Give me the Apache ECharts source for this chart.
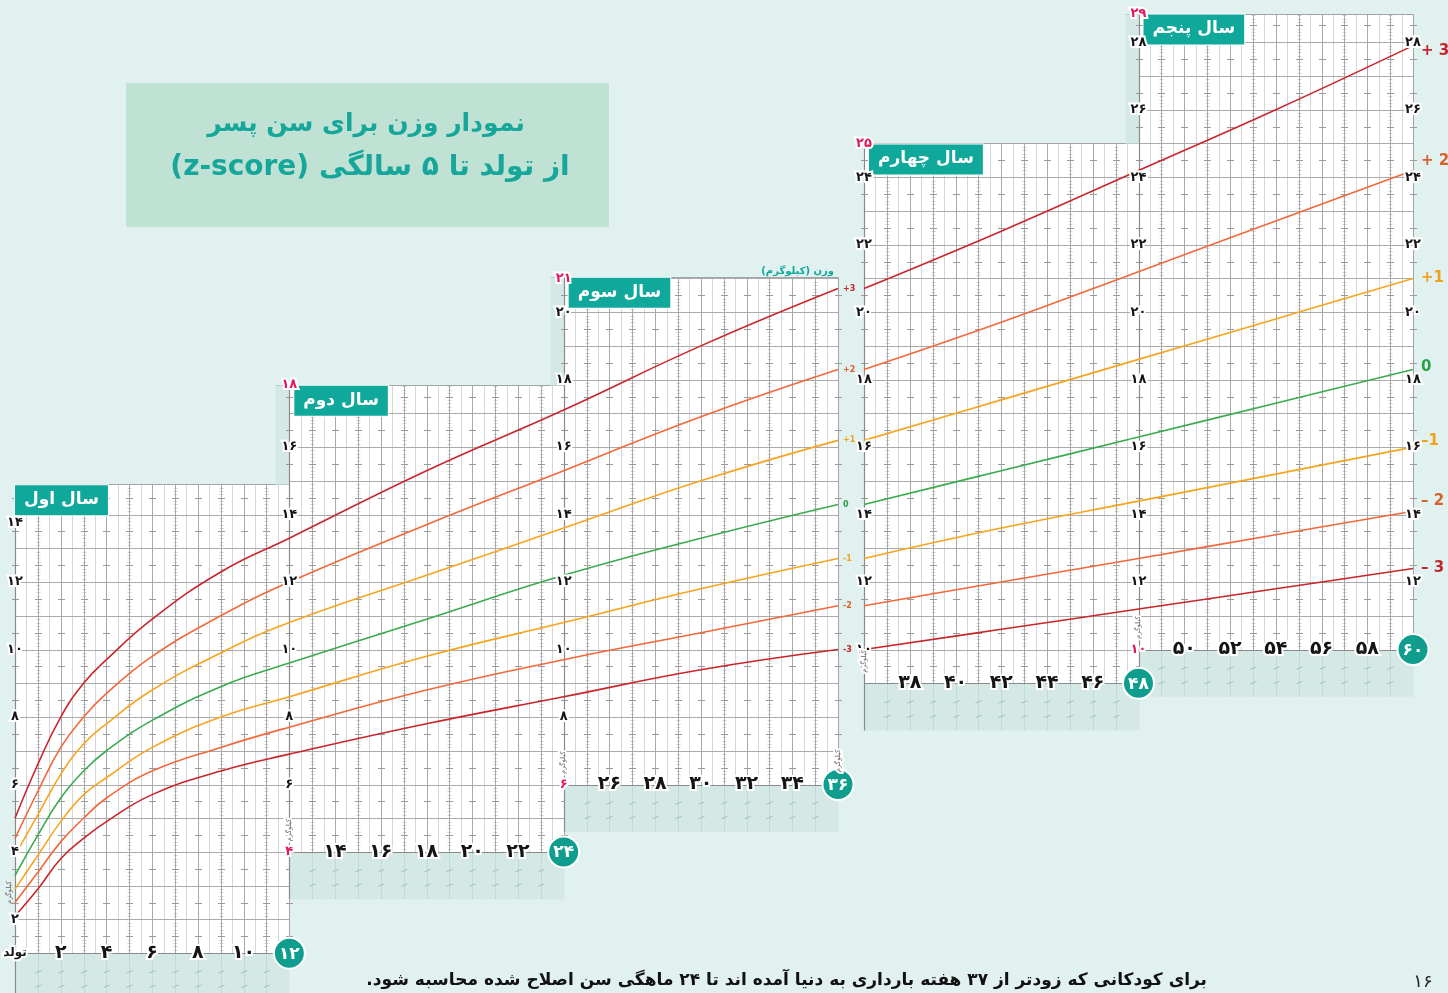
<!DOCTYPE html>
<html><head><meta charset="utf-8">
<script src="https://cdn.jsdelivr.net/npm/echarts@6/dist/echarts.min.js"></script>
<style>html,body{margin:0;padding:0;background:#e1f1ef;overflow:hidden}#chart{width:1448px;height:993px}</style>
</head><body><div id="chart"></div>
<script>
// ---------- DATA ----------
const ageMonths = Array.from({length: 61}, (_, i) => i);
const wSDneg3 = [2.1,2.9,3.8,4.4,4.9,5.3,5.7,5.9,6.2,6.4, 6.6,6.8,6.9,7.1,7.2,7.4,7.5,7.7,7.8,8.0, 8.1,8.2,8.4,8.5,8.6,8.8,8.9,9.0,9.1,9.2, 9.4,9.5,9.6,9.7,9.8,9.9,10.0,10.1,10.2,10.3, 10.4,10.5,10.6,10.7,10.8,10.9,11.0,11.1,11.2,11.3, 11.4,11.5,11.6,11.7,11.8,11.9,12.0,12.1,12.2,12.3,12.4];
const wSDneg2 = [2.5,3.4,4.3,5.0,5.6,6.0,6.4,6.7,6.9,7.1, 7.4,7.6,7.7,7.9,8.1,8.3,8.4,8.6,8.8,8.9, 9.1,9.2,9.4,9.5,9.7,9.8,10.0,10.1,10.2,10.4, 10.5,10.7,10.8,10.9,11.0,11.2,11.3,11.4,11.5,11.6, 11.8,11.9,12.0,12.1,12.2,12.4,12.5,12.6,12.7,12.8, 12.9,13.1,13.2,13.3,13.4,13.5,13.6,13.7,13.8,14.0,14.1];
const wSDneg1 = [2.9,3.9,4.9,5.7,6.2,6.7,7.1,7.4,7.7,8.0, 8.2,8.4,8.6,8.8,9.0,9.2,9.4,9.6,9.8,10.0, 10.1,10.3,10.5,10.7,10.8,11.0,11.2,11.3,11.5,11.7, 11.8,12.0,12.1,12.3,12.4,12.6,12.7,12.9,13.0,13.1, 13.3,13.4,13.6,13.7,13.8,14.0,14.1,14.3,14.4,14.5, 14.7,14.8,15.0,15.1,15.2,15.4,15.5,15.6,15.8,15.9,16.0];
const wSD0    = [3.3,4.5,5.6,6.4,7.0,7.5,7.9,8.3,8.6,8.9, 9.2,9.4,9.6,9.9,10.1,10.3,10.5,10.7,10.9,11.1, 11.3,11.5,11.8,12.0,12.2,12.4,12.5,12.7,12.9,13.1, 13.3,13.5,13.7,13.8,14.0,14.2,14.3,14.5,14.7,14.8, 15.0,15.2,15.3,15.5,15.7,15.8,16.0,16.2,16.3,16.5, 16.7,16.8,17.0,17.2,17.3,17.5,17.7,17.8,18.0,18.2,18.3];
const wSD1    = [3.9,5.1,6.3,7.2,7.8,8.4,8.8,9.2,9.6,9.9, 10.2,10.5,10.8,11.0,11.3,11.5,11.7,12.0,12.2,12.5, 12.7,12.9,13.2,13.4,13.6,13.9,14.1,14.3,14.5,14.8, 15.0,15.2,15.4,15.6,15.8,16.0,16.2,16.4,16.6,16.8, 17.0,17.2,17.4,17.6,17.8,18.0,18.2,18.4,18.6,18.8, 19.0,19.2,19.4,19.6,19.8,20.0,20.2,20.4,20.6,20.8,21.0];
const wSD2    = [4.4,5.8,7.1,8.0,8.7,9.3,9.8,10.3,10.7,11.0, 11.4,11.7,12.0,12.3,12.6,12.8,13.1,13.4,13.7,13.9, 14.2,14.5,14.7,15.0,15.3,15.5,15.8,16.1,16.3,16.6, 16.9,17.1,17.4,17.6,17.8,18.1,18.3,18.6,18.8,19.0, 19.3,19.5,19.7,20.0,20.2,20.5,20.7,20.9,21.2,21.4, 21.7,21.9,22.2,22.4,22.7,22.9,23.2,23.4,23.7,23.9,24.2];
const wSD3    = [5.0,6.6,8.0,9.0,9.7,10.4,10.9,11.4,11.9,12.3, 12.7,13.0,13.3,13.7,14.0,14.3,14.6,14.9,15.3,15.6, 15.9,16.2,16.5,16.8,17.1,17.5,17.8,18.1,18.4,18.7, 19.0,19.3,19.6,19.9,20.2,20.4,20.7,21.0,21.3,21.6, 21.9,22.1,22.4,22.7,23.0,23.3,23.6,23.9,24.2,24.5, 24.8,25.1,25.4,25.7,26.0,26.3,26.6,26.9,27.2,27.6,27.9];
// months whose values are used as curve knots (values rounded to 0.1 kg, so sparse knots avoid rounding kinks)
const curveMonths = [0,1,2,3,4,6,9,12,18,24,30,36,42,48,54,60];

const zSmallLabels = ['+3','+2','+1','0','-1','-2','-3'];
const zLargeLabels = ['+ 3','+ 2','+1','0','–1','– 2','– 3'];

const panelStartMonth = [0, 12, 24, 36, 48];
const panelEndMonth   = [12, 24, 36, 48, 60];
const panelMinKg      = [1, 4, 6, 9, 10];
const panelMaxKg      = [14.9, 17.85, 21.05, 25, 28.85];
const panelTitles     = ['سال اول', 'سال دوم', 'سال سوم', 'سال چهارم', 'سال پنجم'];
const badgeMonths     = [12, 24, 36, 48, 60];
const axisTickKg = [[2,4,6,8,10,12,14],[6,8,10,12,14,16],[8,10,12,14,16,18,20],[10,12,14,16,18,20,22,24],[12,14,16,18,20,22,24,26,28]];
const axisEndKg  = [[],[4,18],[6,21],[25],[10,29]];
const rightTickKg = [12,14,16,18,20,22,24,26,28];
const monthTicks = [[2,4,6,8,10],[14,16,18,20,22],[26,28,30,32,34],[38,40,42,44,46],[50,52,54,56,58]];

const titleLine1 = 'نمودار وزن برای سن پسر';
const titleLine2 = 'از تولد تا ۵ سالگی (z-score)';
const footnote = 'برای کودکانی که زودتر از ۳۷ هفته بارداری به دنیا آمده اند تا ۲۴ ماهگی سن اصلاح شده محاسبه شود.';
const pageNo = '۱۶';
const birthLabel = 'تولد';
const kgWord = 'کیلوگرم';
const weightAxisName = 'وزن (کیلوگرم)';

// ---------- STYLE ----------
const FONT = '"DejaVu Sans", sans-serif';
const GHOST = '#d4e9e6', TEAL = '#10a89b', BADGE = '#0f9e8e', INK = '#151515', RED = '#e3185c';
const zSeries = [wSD3, wSD2, wSD1, wSD0, wSDneg1, wSDneg2, wSDneg3];
const zLineColor = ['#c8262b', '#f2683b', '#f7a41e', '#3aab4f', '#f7a41e', '#f2683b', '#c8262b'];
const zTextColor = ['#c0272d', '#d7612b', '#f3a11c', '#2c9f4b', '#f3a11c', '#d7612b', '#c0272d'];
const RLE = '\u202B', PDF = '\u202C';
const FA = '۰۱۲۳۴۵۶۷۸۹';
const fa = n => String(n).replace(/\d/g, d => FA[d]);
const panelGrid = [0, 0, 0, 1, 1];

// ---------- PANELS (custom) ----------
function panelRender(params, api) {
  const xs = api.value(0), xe = api.value(1), k0 = api.value(2), k1 = api.value(3), prevTop = api.value(4);
  const P = (m, k) => api.coord([m, k]);
  const r = v => Math.round(v) + 0.5;
  const L = r(P(xs, k0)[0]), R = r(P(xe, k0)[0]);
  const T = r(P(xs, k1)[1]), B = r(P(xs, k0)[1]);
  const G = P(xs, k0 - 1.4)[1];
  const ch = [];
  const path = (d, stroke, w) => ({type: 'path', shape: {pathData: d}, style: {fill: 'none', stroke, lineWidth: w || 1}});
  ch.push({type: 'rect', shape: {x: L, y: B, width: R - L, height: G - B}, style: {fill: GHOST}});
  let gl = '', sl = '';
  for (let m = xs + 1; m < xe; m++) {
    const x = r(P(m, k0)[0]);
    gl += `M${x} ${B}L${x} ${G}`;
    [0.55, 0.98].forEach(d => { const y = P(m, k0 - d)[1]; sl += `M${x - 3} ${y + 1.2}L${x + 3} ${y - 1.2}`; });
  }
  ch.push(path(gl, '#c2dad6'));
  ch.push(path(sl, '#9fbcb8'));
  if (prevTop > 0) {
    const yb = r(P(xs, prevTop)[1]);
    ch.push({type: 'rect', shape: {x: L - 14, y: T, width: 14, height: yb - T}, style: {fill: GHOST}});
    ch.push(path(`M${L - 14} ${yb}L${L} ${yb}M${L - 14} ${T}L${L} ${T}`, '#b9d2ce'));
  }
  ch.push({type: 'rect', shape: {x: L, y: T, width: R - L, height: B - T}, style: {fill: '#ffffff'}});
  let half = '', kg = '', mon = '', dash = '', comb = '';
  for (let m = xs; m < xe; m++) { const x = r(P(m + 0.5, k0)[0]); half += `M${x} ${T}L${x} ${B}`; }
  for (let k = Math.ceil(k0 + 0.01); k < k1; k++) { const y = r(P(xs, k)[1]); kg += `M${L} ${y}L${R} ${y}`; }
  for (let m = xs + 1; m < xe; m++) { const x = r(P(m, k0)[0]); mon += `M${x} ${T}L${x} ${B}`; }
  for (let m = xs; m <= xe; m++) {
    const x = r(P(m, k0)[0]);
    for (let k = Math.floor(k0) + 0.5; k < k1; k++) { if (k <= k0) continue; const y = r(P(m, k)[1]); dash += `M${x - 3.5} ${y}L${x + 3.5} ${y}`; }
    if ((m % 2 === 1) && m > xs && m < xe) {
      for (let j = Math.ceil(k0 * 10); j <= Math.floor(k1 * 10); j++) {
        if (j % 5 === 0) continue;
        const y = r(P(m, j / 10)[1]); comb += `M${x - 2} ${y}L${x + 2} ${y}`;
      }
    }
  }
  ch.push(path(half, '#d6d6d6'));
  ch.push(path(comb, '#d2d2d2'));
  ch.push(path(kg, '#ababab'));
  ch.push(path(mon, '#a9a9a9'));
  ch.push(path(dash, '#9a9a9a'));
  ch.push(path(`M${L} ${T}L${R} ${T}M${R} ${T}L${R} ${B}`, '#a3a3a3'));
  ch.push(path(`M${L} ${B}L${R} ${B}M${L} ${T}L${L} ${G}`, '#8a8a8a', 1.2));
  return {type: 'group', children: ch};
}

function decorRender(params, api) {
  const i = api.value(4);
  const tl = api.coord([api.value(0), api.value(1)]);
  const br = api.coord([api.value(2), api.value(3)]);
  const dx = i === 0 ? 0 : 5;
  return {type: 'group', children: [
    {type: 'text', x: tl[0] + dx, y: tl[1] + 1, style: {text: panelTitles[i], fill: '#ffffff', font: `bold 17px ${FONT}`,
      align: 'left', verticalAlign: 'top', textAlign: 'left', textVerticalAlign: 'top',
      backgroundColor: TEAL, padding: [6, 9, 7, 9], borderColor: '#ffffff', borderWidth: 1}},
    {type: 'circle', shape: {cx: br[0], cy: br[1], r: 15.5}, style: {fill: BADGE, stroke: '#ffffff', lineWidth: 2}},
    {type: 'text', x: br[0], y: br[1] + 1, style: {text: fa(badgeMonths[i]), fill: '#ffffff', font: `bold 17px ${FONT}`, align: 'center', verticalAlign: 'middle', textAlign: 'center', textVerticalAlign: 'middle'}}
  ]};
}

// ---------- LABELS ----------
const labelSpecs = [];
function addLabel(grid, m, kg, text, o) { labelSpecs.push(Object.assign({grid, m, kg, text, size: 13, color: INK, halo: true, align: 'center', dx: 0, dy: 0, rot: 0, weight: 'bold'}, o || {})); }
for (let i = 0; i < 5; i++) {
  const g = panelGrid[i], xs = panelStartMonth[i];
  axisTickKg[i].forEach(k => addLabel(g, xs, k, fa(k), (panelMaxKg[i] - k < 1 && i === 0) ? {dy: 8} : {}));
  axisEndKg[i].forEach(k => addLabel(g, xs, Math.min(Math.max(k, panelMinKg[i]), panelMaxKg[i]), fa(k), {color: RED}));
  monthTicks[i].forEach(m => addLabel(g, m, panelMinKg[i], fa(m), {size: 19}));
  if (i === 0) addLabel(g, xs, panelMinKg[i] + 1.8, kgWord, {size: 7, color: '#666', rot: Math.PI / 2, dx: -6, weight: 'normal', halo: false});
  else addLabel(g, xs, panelMinKg[i] + 0.65, kgWord, {size: 7, color: '#666', rot: Math.PI / 2, weight: 'normal'});
}
addLabel(0, 36, 6.7, kgWord, {size: 7, color: '#666', rot: Math.PI / 2, weight: 'normal'});
rightTickKg.forEach(k => addLabel(1, 60, k, fa(k), {}));
addLabel(0, 0, 1, birthLabel, {size: 12});
zSeries.forEach((s, z) => addLabel(0, 36, s[36], zSmallLabels[z], {size: 8, color: zTextColor[z], align: 'left', dx: 5, halo: false}));
const zBigDy = [5, -9, 0, -2, -6, -10, 0];
zSeries.forEach((s, z) => addLabel(1, 60, s[60], zLargeLabels[z], {size: 15, color: zTextColor[z], align: 'left', dx: 8, dy: zBigDy[z], halo: false}));
addLabel(0, 36, 21.2, RLE + weightAxisName + PDF, {size: 10, color: TEAL, align: 'right', dx: -4, halo: false});

function labelRender(params, api) {
  const s = labelSpecs[api.value(2)];
  const p = api.coord([api.value(0), api.value(1)]);
  return {type: 'text', x: p[0] + s.dx, y: p[1] + s.dy, rotation: s.rot,
    style: {text: s.text, fill: s.color, font: `${s.weight} ${s.size}px ${FONT}`,
      align: s.align, verticalAlign: 'middle', textAlign: s.align, textVerticalAlign: 'middle',
      stroke: s.halo ? '#ffffff' : null, lineWidth: s.halo ? 4 : 0}};
}

// ---------- SERIES ----------
const series = [];
[0, 1].forEach(g => {
  const idx = [0, 1, 2, 3, 4].filter(i => panelGrid[i] === g);
  series.push({type: 'custom', xAxisIndex: g, yAxisIndex: g, renderItem: panelRender, silent: true, z: 1,
    encode: {x: [0, 1], y: [2, 3]},
    data: idx.map(i => [panelStartMonth[i], panelEndMonth[i], panelMinKg[i], panelMaxKg[i],
      (i > 0 && panelGrid[i - 1] === g) ? panelMaxKg[i - 1] : -1])});
});
zSeries.forEach((s, z) => {
  [0, 1].forEach(g => {
    const ms = curveMonths.filter(m => ageMonths.includes(m) && (g === 0 ? m <= 36 : m >= 36));
    series.push({type: 'line', xAxisIndex: g, yAxisIndex: g, data: ms.map(m => [m, s[m]]), smooth: 0.45,
      symbol: 'none', silent: true, z: 3, lineStyle: {color: zLineColor[z], width: 1.6}});
  });
});
[0, 1].forEach(g => {
  const idx = [0, 1, 2, 3, 4].filter(i => panelGrid[i] === g);
  series.push({type: 'custom', xAxisIndex: g, yAxisIndex: g, renderItem: decorRender, silent: true, z: 5,
    encode: {x: [0, 2], y: [1, 3]},
    data: idx.map(i => [panelStartMonth[i], panelMaxKg[i], panelEndMonth[i], panelMinKg[i], i])});
});
[0, 1].forEach(g => {
  series.push({type: 'custom', xAxisIndex: g, yAxisIndex: g, renderItem: labelRender, silent: true, z: 7,
    encode: {x: 0, y: 1},
    data: labelSpecs.map((s, j) => [s.m, s.kg, j]).filter((d, j) => labelSpecs[j].grid === g)});
});

const chart = echarts.init(document.getElementById('chart'));
chart.setOption({
  backgroundColor: '#e1f1ef',
  animation: false,
  grid: [{left: 15, right: 610, top: 8.5, bottom: 39.8}, {left: 864, right: 35, top: 8.5, bottom: 39.8}],
  xAxis: [{gridIndex: 0, type: 'value', min: 0, max: 36, show: false}, {gridIndex: 1, type: 'value', min: 36, max: 60, show: false}],
  yAxis: [{gridIndex: 0, type: 'value', min: 1, max: 29, show: false}, {gridIndex: 1, type: 'value', min: 1, max: 29, show: false}],
  graphic: [
    {type: 'rect', shape: {x: 126, y: 83, width: 483, height: 144}, style: {fill: '#bfe2d5'}, z: 10},
    {type: 'text', x: 366, y: 124, z: 11, style: {text: titleLine1, fill: '#17a69a', font: `bold 25px ${FONT}`, align: 'center', verticalAlign: 'middle', textAlign: 'center', textVerticalAlign: 'middle'}},
    {type: 'text', x: 370, y: 168, z: 11, style: {text: RLE + titleLine2 + PDF, fill: '#17a69a', font: `bold 28px ${FONT}`, align: 'center', verticalAlign: 'middle', textAlign: 'center', textVerticalAlign: 'middle'}},
    {type: 'text', x: 1207, y: 981, z: 11, style: {text: RLE + footnote + PDF, fill: '#111', font: `bold 17px ${FONT}`, align: 'right', verticalAlign: 'middle', textAlign: 'right', textVerticalAlign: 'middle'}},
    {type: 'text', x: 1423, y: 982, z: 11, style: {text: pageNo, fill: '#222', font: `18px ${FONT}`, align: 'center', verticalAlign: 'middle', textAlign: 'center', textVerticalAlign: 'middle'}}
  ],
  series
});
</script></body></html>
